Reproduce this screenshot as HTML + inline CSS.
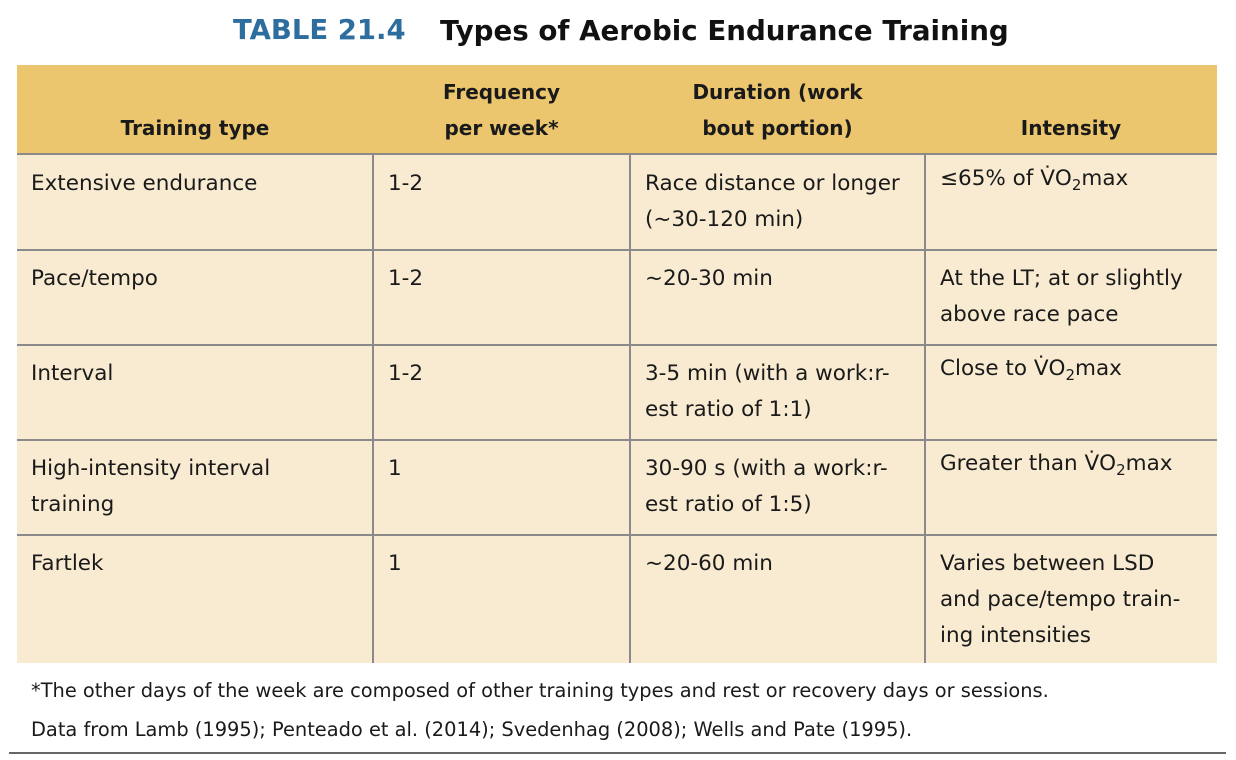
<!DOCTYPE html>
<html><head><meta charset="utf-8"><style>
body{margin:0;width:1236px;height:760px;background:#fff;position:relative;overflow:hidden;font-family:"DejaVu Sans","Liberation Sans",sans-serif;color:#1a1a1a}
.a{position:absolute}
.t{font-size:21.5px;line-height:36px;white-space:nowrap}
.h{font-weight:bold;text-align:center;font-size:20px}
sub{font-size:15px;line-height:0;vertical-align:-5px}
</style></head><body>
<div class="a" style="left:233px;top:14px;font-size:27.5px;font-weight:bold;color:#2d6e9f;white-space:nowrap">TABLE 21.4</div>
<div class="a" style="left:440px;top:14px;font-size:27.7px;font-weight:bold;color:#111;white-space:nowrap">Types of Aerobic Endurance Training</div>

<div class="a" style="left:17px;top:65px;width:1200px;height:89px;background:#ecc66f"></div>
<div class="a" style="left:17px;top:154px;width:1200px;height:509px;background:#f8ebd1"></div>
<div class="a" style="left:17px;top:153px;width:1200px;height:2px;background:#8a8a8a"></div>
<div class="a" style="left:17px;top:249px;width:1200px;height:2px;background:#8a8a8a"></div>
<div class="a" style="left:17px;top:344px;width:1200px;height:2px;background:#8a8a8a"></div>
<div class="a" style="left:17px;top:439px;width:1200px;height:2px;background:#8a8a8a"></div>
<div class="a" style="left:17px;top:534px;width:1200px;height:2px;background:#8a8a8a"></div>
<div class="a" style="left:372px;top:154px;width:2px;height:509px;background:#8a8a8a"></div>
<div class="a" style="left:629px;top:154px;width:2px;height:509px;background:#8a8a8a"></div>
<div class="a" style="left:924px;top:154px;width:2px;height:509px;background:#8a8a8a"></div>

<div class="a t h" style="left:17px;width:356px;top:110px">Training type</div>
<div class="a t h" style="left:373px;width:257px;top:74px">Frequency<br>per week*</div>
<div class="a t h" style="left:630px;width:295px;top:74px">Duration (work<br>bout portion)</div>
<div class="a t h" style="left:925px;width:292px;top:110px">Intensity</div>

<div class="a t" style="left:31px;top:166px">Extensive endurance</div>
<div class="a t" style="left:388px;top:166px">1-2</div>
<div class="a t" style="left:645px;top:166px">Race distance or longer<br>(~30-120 min)</div>
<div class="a t" style="left:940px;top:161px">≤65% of V̇O<sub>2</sub>max</div>

<div class="a t" style="left:31px;top:261px">Pace/tempo</div>
<div class="a t" style="left:388px;top:261px">1-2</div>
<div class="a t" style="left:645px;top:261px">~20-30 min</div>
<div class="a t" style="left:940px;top:261px">At the LT; at or slightly<br>above race pace</div>

<div class="a t" style="left:31px;top:356px">Interval</div>
<div class="a t" style="left:388px;top:356px">1-2</div>
<div class="a t" style="left:645px;top:356px">3-5 min (with a work:r-<br>est ratio of 1:1)</div>
<div class="a t" style="left:940px;top:351px">Close to V̇O<sub>2</sub>max</div>

<div class="a t" style="left:31px;top:451px">High-intensity interval<br>training</div>
<div class="a t" style="left:388px;top:451px">1</div>
<div class="a t" style="left:645px;top:451px">30-90 s (with a work:r-<br>est ratio of 1:5)</div>
<div class="a t" style="left:940px;top:446px">Greater than V̇O<sub>2</sub>max</div>

<div class="a t" style="left:31px;top:546px">Fartlek</div>
<div class="a t" style="left:388px;top:546px">1</div>
<div class="a t" style="left:645px;top:546px">~20-60 min</div>
<div class="a t" style="left:940px;top:546px">Varies between LSD<br>and pace/tempo train-<br>ing intensities</div>

<div class="a" style="left:31px;top:679px;font-size:19.4px;white-space:nowrap">*The other days of the week are composed of other training types and rest or recovery days or sessions.</div>
<div class="a" style="left:31px;top:718px;font-size:19.4px;white-space:nowrap">Data from Lamb (1995); Penteado et al. (2014); Svedenhag (2008); Wells and Pate (1995).</div>
<div class="a" style="left:9px;top:752px;width:1217px;height:2px;background:#666"></div>
</body></html>
